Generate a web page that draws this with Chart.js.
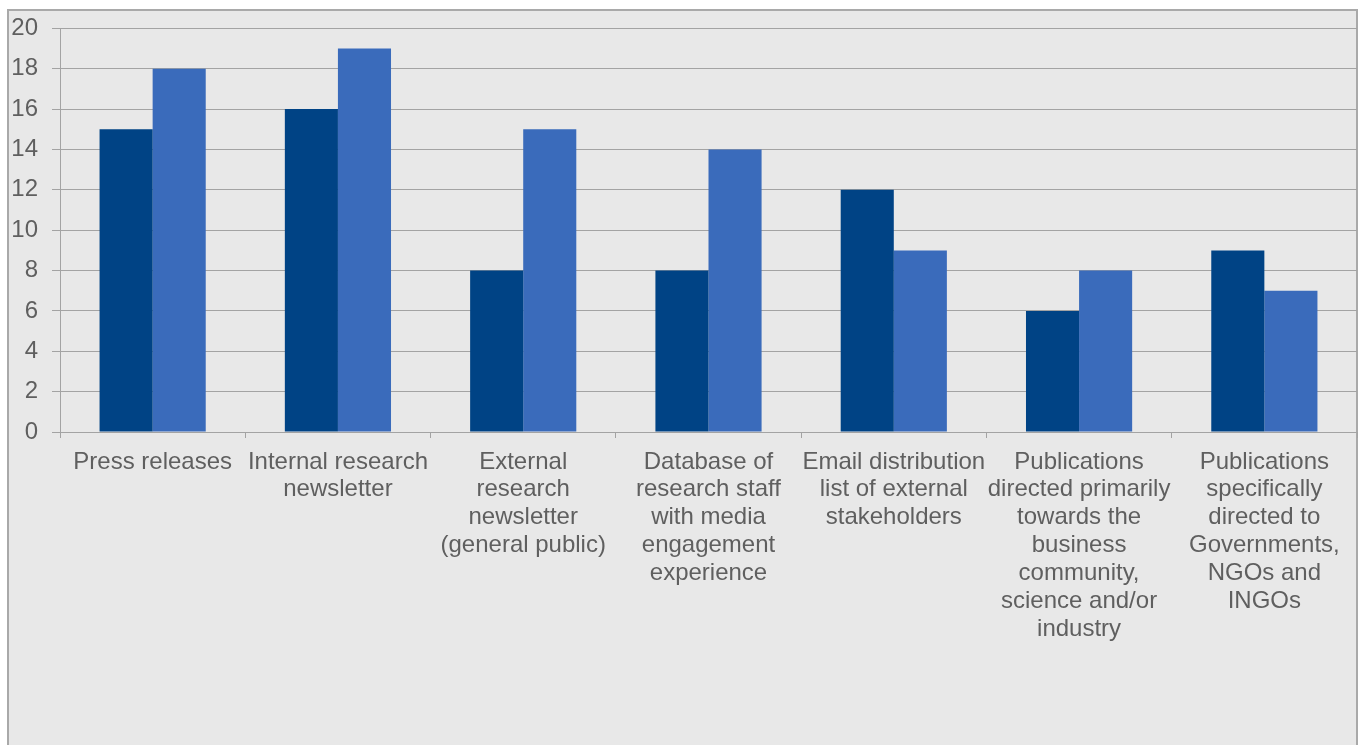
<!DOCTYPE html>
<html>
<head>
<meta charset="utf-8">
<script src="https://cdn.jsdelivr.net/npm/chart.js@4"></script>
<style>
  html, body { margin: 0; padding: 0; background: #ffffff; overflow: hidden; }
  #frame {
    position: absolute; left: 7px; top: 9px; width: 1351px; height: 800px;
    box-sizing: border-box; border: 2px solid #a9a9a9; background: #e8e8e8;
  }
  #wrap { position: absolute; left: 0; top: 0; width: 1359px; height: 745px; }
</style>
</head>
<body>
<div id="frame"></div>
<div id="wrap"><canvas id="c"></canvas></div>
<script>
const categories = [
  ["Press releases"],
  ["Internal research", "newsletter"],
  ["External", "research", "newsletter", "(general public)"],
  ["Database of", "research staff", "with media", "engagement", "experience"],
  ["Email distribution", "list of external", "stakeholders"],
  ["Publications", "directed primarily", "towards the", "business", "community,", "science and/or", "industry"],
  ["Publications", "specifically", "directed to", "Governments,", "NGOs and", "INGOs"]
];
const seriesA = [15, 16, 8, 8, 12, 6, 9];
const seriesB = [18, 19, 15, 14, 9, 8, 7];
const yTicks = [0, 2, 4, 6, 8, 10, 12, 14, 16, 18, 20];

const textColor = '#5f5f5f';
const gridColor = '#a3a3a3';
const font = { family: '"Liberation Sans", Arial, sans-serif', size: 24, lineHeight: 1.16 };

new Chart(document.getElementById('c'), {
  type: 'bar',
  data: {
    labels: categories,
    datasets: [
      { label: 'Series 1', data: seriesA, backgroundColor: '#004385', borderWidth: 0 },
      { label: 'Series 2', data: seriesB, backgroundColor: '#3a6bbb', borderWidth: 0 }
    ]
  },
  options: {
    responsive: true,
    maintainAspectRatio: false,
    animation: false,
    layout: { padding: { top: 26, right: 2, left: 0, bottom: 0 } },
    plugins: { legend: { display: false }, tooltip: { enabled: false } },
    datasets: { bar: { categoryPercentage: 0.573, barPercentage: 1.0 } },
    scales: {
      x: {
        afterFit: s => { s.height = 745 - 432; },
        grid: { offset: true, drawOnChartArea: false, drawTicks: true, tickLength: 6, color: gridColor, lineWidth: 1 },
        border: { display: true, color: gridColor, width: 1 },
        ticks: { color: textColor, font: font, padding: 10, autoSkip: false, maxRotation: 0, minRotation: 0 }
      },
      y: {
        min: 0, max: 20,
        afterFit: s => { s.width = 60; },
        afterBuildTicks: s => { s.ticks = yTicks.map(v => ({ value: v })); },
        grid: { color: gridColor, lineWidth: 1, tickLength: 8, drawTicks: true },
        border: { display: true, color: gridColor, width: 1 },
        ticks: { color: textColor, font: { family: font.family, size: 24 }, padding: 14 }
      }
    }
  }
});
</script>
</body>
</html>
